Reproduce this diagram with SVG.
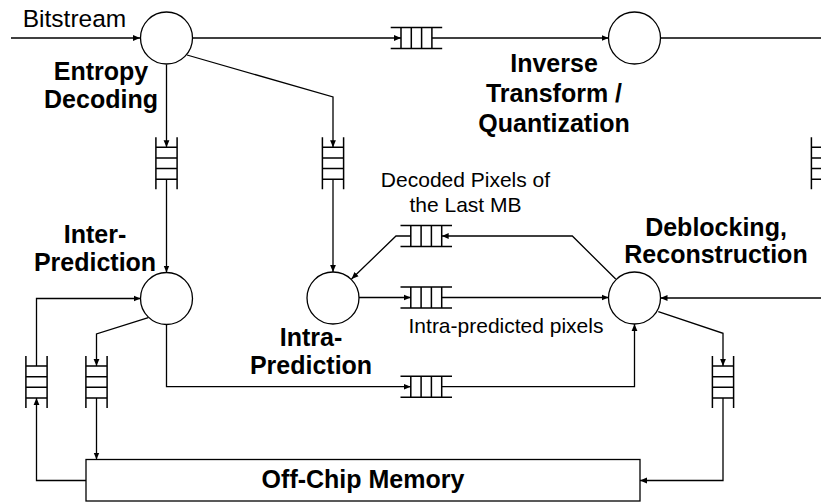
<svg xmlns="http://www.w3.org/2000/svg" xmlns:xlink="http://www.w3.org/1999/xlink" width="821" height="504" viewBox="0 0 821 504">
<style>
.ln{fill:none;stroke:#000;stroke-width:1.3}
.q{fill:none;stroke:#000;stroke-width:1.5}
.nd{fill:#fff;stroke:#000;stroke-width:1.3}
.b{font-family:"Liberation Sans",Arial,sans-serif;font-weight:bold;font-size:25px;fill:#000;text-anchor:middle}
.r{font-family:"Liberation Sans",Arial,sans-serif;font-size:21px;fill:#000;text-anchor:middle}
</style>
<defs>
<marker id="a" markerWidth="7" markerHeight="7" refX="7" refY="3.5" orient="auto" markerUnits="userSpaceOnUse"><path d="M0,0.6 L7,3.5 L0,6.4 z" fill="#000"/></marker>
<path id="hq" d="M0,-10.5 H51.5 M0,10.5 H51.5 M10.3,-10.5 V10.5 M20.6,-10.5 V10.5 M30.9,-10.5 V10.5 M41.2,-10.5 V10.5"/>
<path id="vq" d="M-10.6,0 V52 M10.6,0 V52 M-10.6,10 H10.6 M-10.6,20.7 H10.6 M-10.6,31.3 H10.6 M-10.6,42 H10.6"/>
</defs>
<rect width="821" height="504" fill="#fff"/>
<g id="connectors" class="ln">
<path d="M11,38 H140" marker-end="url(#a)"/>
<path d="M192.5,38 H401" marker-end="url(#a)"/>
<path d="M432,38 H608.5" marker-end="url(#a)"/>
<path d="M660.5,38 H821"/>
<path d="M166.5,64.5 V147.3" marker-end="url(#a)"/>
<path d="M166.5,179.3 V272.5" marker-end="url(#a)"/>
<path d="M187,55 L333,97 V147.3" marker-end="url(#a)"/>
<path d="M333,179.3 V272" marker-end="url(#a)"/>
<path d="M359,297.5 H410.8" marker-end="url(#a)"/>
<path d="M441.7,297.5 H608.5" marker-end="url(#a)"/>
<path d="M615.7,279 L572.3,236 H441.7" marker-end="url(#a)"/>
<path d="M410.8,236 H396 L351.5,279" marker-end="url(#a)"/>
<path d="M166.5,324.5 V386.7 H410.8" marker-end="url(#a)"/>
<path d="M441.7,386.7 H634.5 V324" marker-end="url(#a)"/>
<path d="M821,298 H660.5" marker-end="url(#a)"/>
<path d="M658.3,311.7 L723,333.3 V366" marker-end="url(#a)"/>
<path d="M723,398 V480.5 H640" marker-end="url(#a)"/>
<path d="M148.3,317.7 L96.5,334 V366" marker-end="url(#a)"/>
<path d="M96.5,398 V459.5" marker-end="url(#a)"/>
<path d="M86,480.5 H36.5 V398" marker-end="url(#a)"/>
<path d="M36.5,366 V298.5 H140.5" marker-end="url(#a)"/>
</g>
<g id="queue-top" class="q"><use xlink:href="#hq" x="390.7" y="38"/></g>
<g id="queue-decoded" class="q"><use xlink:href="#hq" x="400.5" y="236"/></g>
<g id="queue-intra-pred" class="q"><use xlink:href="#hq" x="400.5" y="297.5"/></g>
<g id="queue-bottom" class="q"><use xlink:href="#hq" x="400.5" y="386.7"/></g>
<g id="queue-inter-in" class="q"><use xlink:href="#vq" x="166.5" y="137.3"/></g>
<g id="queue-intra-in" class="q"><use xlink:href="#vq" x="333" y="137.3"/></g>
<g id="queue-right" class="q"><use xlink:href="#vq" x="822" y="137.3"/></g>
<g id="queue-mem-read" class="q"><use xlink:href="#vq" x="36.5" y="356"/></g>
<g id="queue-mem-write" class="q"><use xlink:href="#vq" x="96.5" y="356"/></g>
<g id="queue-deblock-out" class="q"><use xlink:href="#vq" x="723" y="356"/></g>
<g id="entropy-decoding">
<circle class="nd" cx="166.5" cy="38" r="26"/>
<text class="b" x="101" y="80">Entropy</text>
<text class="b" x="101" y="108">Decoding</text>
</g>
<g id="inverse-transform">
<circle class="nd" cx="634.5" cy="38" r="26"/>
<text class="b" x="554" y="72">Inverse</text>
<text class="b" x="554" y="102">Transform /</text>
<text class="b" x="554" y="132">Quantization</text>
</g>
<g id="inter-prediction">
<circle class="nd" cx="166.5" cy="298.5" r="26"/>
<text class="b" x="95" y="243">Inter-</text>
<text class="b" x="95" y="271">Prediction</text>
</g>
<g id="intra-prediction">
<circle class="nd" cx="333" cy="298" r="26"/>
<text class="b" x="311" y="346">Intra-</text>
<text class="b" x="311" y="374">Prediction</text>
</g>
<g id="deblocking">
<circle class="nd" cx="634.5" cy="298" r="26"/>
<text class="b" x="716" y="236">Deblocking,</text>
<text class="b" x="716" y="263">Reconstruction</text>
</g>
<g id="off-chip-memory">
<rect class="nd" x="86" y="459.5" width="554" height="41.5"/>
<text class="b" x="363" y="488">Off-Chip Memory</text>
</g>
<g id="labels">
<text class="r" x="74.5" y="27.3" style="font-size:24.5px">Bitstream</text>
<text class="r" x="465.5" y="186.7">Decoded Pixels of</text>
<text class="r" x="465.5" y="211.7">the Last MB</text>
<text class="r" x="506" y="333.3">Intra-predicted pixels</text>
</g>
</svg>
